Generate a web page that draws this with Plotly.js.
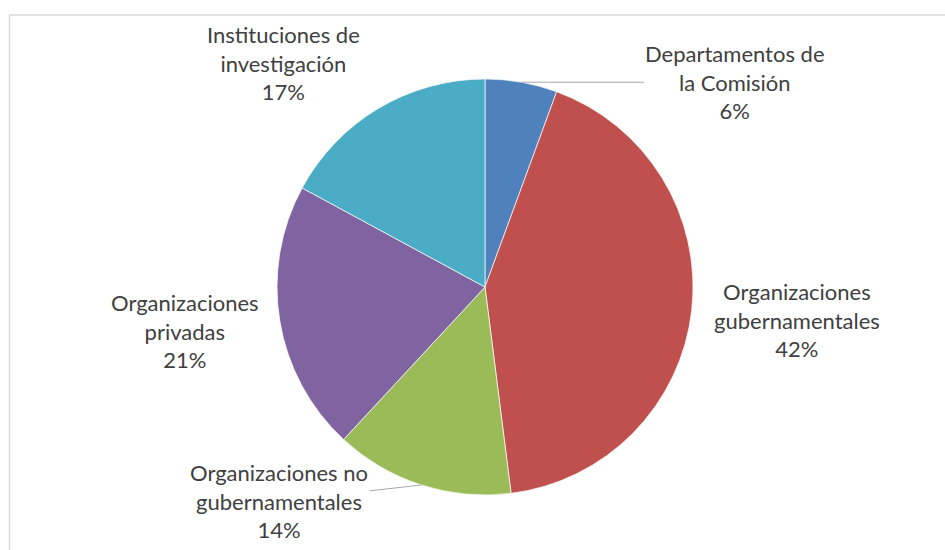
<!DOCTYPE html>
<html>
<head>
<meta charset="utf-8">
<script src="https://cdn.plot.ly/plotly-3.0.1.min.js"></script>
<style>html,body{margin:0;padding:0;background:#fff;}#chart{width:945px;height:550px;}</style>
</head>
<body>
<div id="chart"></div>
<script>
// Data
const categories = [
  "Departamentos de<br>la Comisión",
  "Organizaciones<br>gubernamentales",
  "Organizaciones no<br>gubernamentales",
  "Organizaciones<br>privadas",
  "Instituciones de<br>investigación"
];
const values = [5.6, 42.4, 13.9, 21.0, 17.1];
const colors = ["#4F81BD", "#C0504D", "#9BBB59", "#8064A2", "#4BACC6"];

// Layout constants (pixels)
const W = 945, H = 550;
const cx = 485, cy = 287, R = 208;
// label offsets from slice edge midpoint (px) and whether a leader line is drawn
const labelOffsets = [[214, 0], [105, 10], [-142, 16], [-95, 10], [-95, -45]];
const leader = [true, false, true, false, false];

const total = values.reduce((a, b) => a + b, 0);
let cum = 0;
const annotations = values.map((v, i) => {
  const mid = (cum + v / 2) / total * 2 * Math.PI;
  cum += v;
  const px = cx + R * Math.sin(mid);
  const py = cy - R * Math.cos(mid);
  const pct = Math.round(v / total * 100) + "%";
  return {
    x: px / W, y: 1 - py / H, xref: "paper", yref: "paper",
    text: categories[i] + "<br>" + pct,
    showarrow: true, arrowhead: 0, arrowwidth: 1, standoff: 0, startstandoff: 0,
    arrowcolor: leader[i] ? "#A6A6A6" : "rgba(0,0,0,0)",
    ax: labelOffsets[i][0], ay: labelOffsets[i][1],
    font: {family: "Lato, 'Open Sans', sans-serif", size: 22, color: "#404040"},
    align: "center"
  };
});

const trace = {
  type: "pie",
  labels: categories,
  values: values,
  sort: false,
  direction: "clockwise",
  rotation: 0,
  textinfo: "none",
  hoverinfo: "label+percent",
  marker: {colors: colors, line: {color: "#ffffff", width: 0.7}},
  domain: {x: [(cx - R) / W, (cx + R) / W], y: [1 - (cy + R) / H, 1 - (cy - R) / H]},
  showlegend: false
};

const layout = {
  width: W, height: H,
  margin: {l: 0, r: 0, t: 0, b: 0},
  paper_bgcolor: "#ffffff",
  showlegend: false,
  annotations: annotations,
  shapes: [
    {type: "line", xref: "paper", yref: "paper", x0: 9.5 / W, x1: 1.01, y0: 1 - 15 / H, y1: 1 - 15 / H, line: {color: "#D9D9D9", width: 1.5}},
    {type: "line", xref: "paper", yref: "paper", x0: 9.5 / W, x1: 9.5 / W, y0: 1 - 15 / H, y1: -0.01, line: {color: "#D9D9D9", width: 1.5}}
  ]
};

Plotly.newPlot("chart", [trace], layout, {staticPlot: true});
</script>
</body>
</html>
